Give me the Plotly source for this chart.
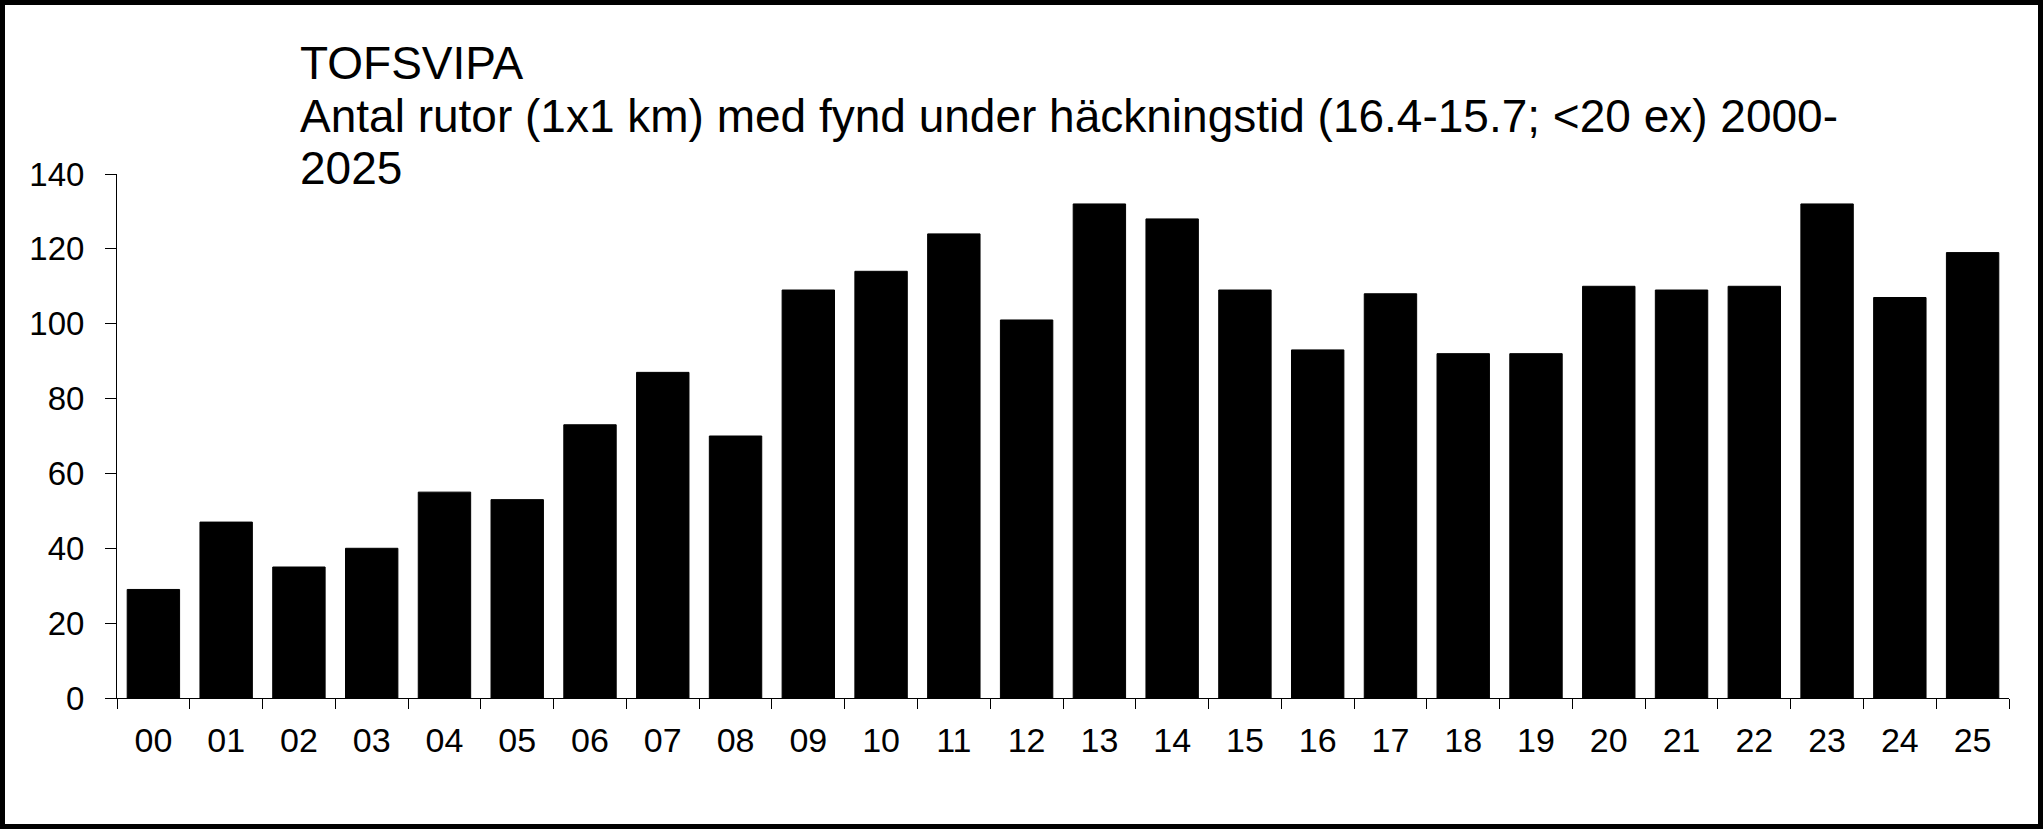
import plotly.graph_objects as go

years = ["00", "01", "02", "03", "04", "05", "06", "07", "08", "09", "10", "11", "12",
         "13", "14", "15", "16", "17", "18", "19", "20", "21", "22", "23", "24", "25"]
squares = [29, 47, 35, 40, 55, 53, 73, 87, 70, 109, 114, 124, 101,
           132, 128, 109, 93, 108, 92, 92, 110, 109, 110, 132, 107, 119]
y_ticks = [0, 20, 40, 60, 80, 100, 120, 140]
title_lines = ["TOFSVIPA",
               "Antal rutor (1x1 km) med fynd under häckningstid (16.4-15.7; <20 ex) 2000-",
               "2025"]

W, H = 2043, 829
ML, MR, MT, MB = 117, 34, 174, 131
PW, PH = W - ML - MR, H - MT - MB
FONT = "Liberation Sans, Arial, sans-serif"

fig = go.Figure(go.Bar(
    x=years, y=squares,
    marker=dict(color="black", line=dict(color="black", width=1)),
))

fig.update_layout(
    width=W, height=H,
    margin=dict(l=ML, r=MR, t=MT, b=MB, pad=0),
    paper_bgcolor="white", plot_bgcolor="white",
    bargap=0.28,
    showlegend=False,
    font=dict(family=FONT, color="black"),
)

fig.update_xaxes(
    type="category",
    showline=True, linecolor="black", linewidth=1,
    ticks="outside", tickson="boundaries", ticklen=10, tickwidth=1, tickcolor="black",
    tickfont=dict(family=FONT, size=34, color="black"),
    ticklabelstandoff=12,
    showgrid=False, zeroline=False,
)
fig.update_yaxes(
    range=[0, 140], tickvals=y_ticks, ticktext=[str(v) for v in y_ticks],
    showline=True, linecolor="black", linewidth=1,
    ticks="outside", ticklen=11, tickwidth=1, tickcolor="black",
    tickfont=dict(family=FONT, size=33, color="black"),
    ticklabelstandoff=14,
    showgrid=False, zeroline=False,
)

# title block: one annotation per line (pixel centre of each line)
line_centres = [63, 116, 168]
for txt, yc in zip(title_lines, line_centres):
    fig.add_annotation(
        text=txt,
        xref="paper", yref="paper",
        x=(298 - ML) / PW, y=1 + (MT - yc) / PH,
        xanchor="left", yanchor="middle", align="left", showarrow=False,
        font=dict(family=FONT, size=46, color="black"),
    )

# outer frame
t = 5
fig.add_shape(
    type="rect", xref="paper", yref="paper",
    x0=(t / 2 - ML) / PW, x1=(W - t / 2 - ML) / PW,
    y0=-(MB - t / 2) / PH, y1=1 + (MT - t / 2) / PH,
    line=dict(color="black", width=t), fillcolor="rgba(0,0,0,0)", layer="above",
)

fig.write_html(
    "out.html",
    config={"displayModeBar": False},
    post_script="document.body.style.margin='0';document.body.style.overflow='hidden';",
)
